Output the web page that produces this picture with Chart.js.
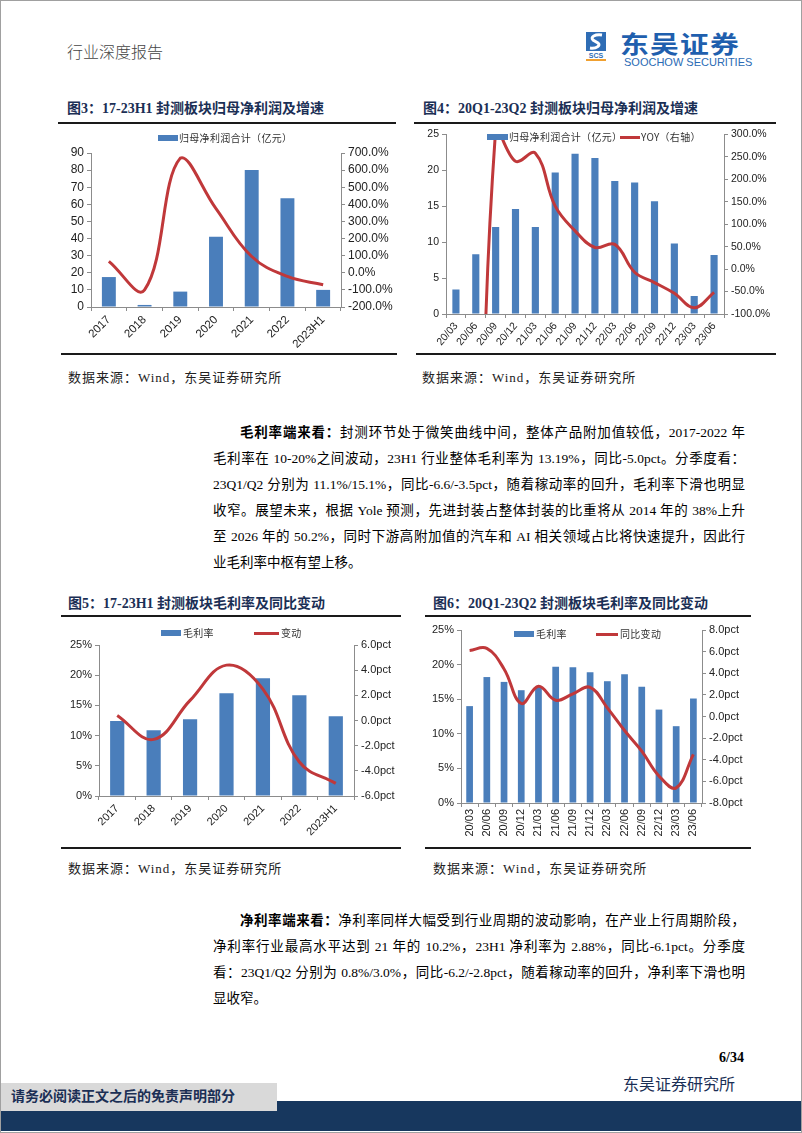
<!DOCTYPE html>
<html>
<head>
<meta charset="utf-8">
<script src="https://cdn.jsdelivr.net/npm/chart.js@4"></script>
<style>
  html, body { margin: 0; padding: 0; background: #fff; }
  #page { position: relative; width: 800px; height: 1131px; border: 1px solid #a0a0a0; overflow: hidden;
          font-family: "Liberation Serif", "Noto Sans CJK SC", serif; color: #000; }
  .abs { position: absolute; white-space: nowrap; }
  .rule { position: absolute; height: 2px; background: #1a1a1a; }
  .ttl { position: absolute; font-size: 14px; font-weight: bold; color: #1b2f55; white-space: nowrap; line-height: 16px; }
  .src { position: absolute; font-size: 13px; letter-spacing: 1px; color: #222; white-space: nowrap; line-height: 16px; }
  .box { position: absolute; }
  .box canvas { display: block; }
  .lg { position: absolute; font-family: "Noto Sans CJK SC", sans-serif; font-size: 10px; letter-spacing: 0.3px;
        color: #333; white-space: nowrap; line-height: 12px; }
  .lg .sw { position: absolute; top: 3px; height: 6px; background: #4a7ebb; }
  .lg .ln { position: absolute; top: 5px; height: 3px; background: #c0383a; }
  .lg span { position: absolute; top: 0; }
  .para { position: absolute; left: 212px; width: 532px; font-size: 13.5px; line-height: 26px; }
  .para div { text-align: justify; text-align-last: justify; }
  .para div.last { text-align-last: left; }
  .para b { font-weight: bold; }
</style>
</head>
<body>
<div id="page">
  <!-- header -->
  <div class="abs" style="left:66px;top:40px;font-size:16px;color:#444;line-height:20px;font-family:'Noto Sans CJK SC';font-weight:300;">行业深度报告</div>
  <svg class="abs" style="left:585px;top:31px" width="22" height="30" viewBox="0 0 22 30">
    <rect x="0" y="0" width="20" height="19" fill="#2f6db5"/>
    <path d="M16 3 C9 2 4 5 7 8 L12 11 C15 13 11 17 4 16" stroke="#fff" stroke-width="3" fill="none"/>
    <text x="10" y="25.5" font-size="7" font-weight="bold" fill="#2f6db5" text-anchor="middle" font-family="Liberation Sans">SCS</text>
    <rect x="0" y="27" width="20" height="2" fill="#f0a030"/>
  </svg>
  <div class="abs" style="left:619px;top:28px;font-size:24px;line-height:28px;font-weight:bold;color:#1f5fae;font-family:'Noto Sans CJK SC';transform:scaleX(1.2);transform-origin:left top;letter-spacing:1px;">东吴证券</div>
  <div class="abs" style="left:623px;top:55px;font-size:11px;line-height:12px;color:#2a6bb5;font-family:'Liberation Sans';">SOOCHOW SECURITIES</div>

  <!-- figure 3 / 4 -->
  <div class="ttl" style="left:66px;top:100px;">图3：17-23H1 封测板块归母净利润及增速</div>
  <div class="ttl" style="left:422px;top:100px;">图4：20Q1-23Q2 封测板块归母净利润及增速</div>
  <div class="rule" style="left:57px;top:121px;width:338px;"></div>
  <div class="rule" style="left:413px;top:121px;width:362px;"></div>

  <div class="box" style="left:60px;top:124px;"><canvas id="fig3" width="335" height="226"></canvas></div>
  <div class="box" style="left:413px;top:124px;"><canvas id="fig4" width="362" height="226"></canvas></div>

  <div class="lg" style="left:157px;top:131px;"><i class="sw" style="left:0;width:20px;"></i><span style="left:21px;">归母净利润合计（亿元）</span></div>
  <div class="lg" style="left:486px;top:130px;"><i class="sw" style="left:0;width:21px;"></i><span style="left:22px;">归母净利润合计（亿元）</span>
    <i class="ln" style="left:133px;width:20px;"></i><span style="left:154px;">YOY（右轴）</span></div>

  <div class="rule" style="left:60px;top:352px;width:336px;"></div>
  <div class="rule" style="left:415px;top:352px;width:360px;"></div>
  <div class="src" style="left:67px;top:369px;">数据来源：Wind，东吴证券研究所</div>
  <div class="src" style="left:421px;top:369px;">数据来源：Wind，东吴证券研究所</div>

  <!-- paragraph 1 -->
  <div class="para" style="top:419px;">
    <div><span style="padding-left:27px;"></span><b>毛利率端来看：</b>封测环节处于微笑曲线中间，整体产品附加值较低，2017-2022 年</div>
    <div>毛利率在 10-20%之间波动，23H1 行业整体毛利率为 13.19%，同比-5.0pct。分季度看：</div>
    <div>23Q1/Q2 分别为 11.1%/15.1%，同比-6.6/-3.5pct，随着稼动率的回升，毛利率下滑也明显</div>
    <div>收窄。展望未来，根据 Yole 预测，先进封装占整体封装的比重将从 2014 年的 38%上升</div>
    <div>至 2026 年的 50.2%，同时下游高附加值的汽车和 AI 相关领域占比将快速提升，因此行</div>
    <div class="last">业毛利率中枢有望上移。</div>
  </div>

  <!-- figure 5 / 6 -->
  <div class="ttl" style="left:67px;top:595px;">图5：17-23H1 封测板块毛利率及同比变动</div>
  <div class="ttl" style="left:432px;top:595px;">图6：20Q1-23Q2 封测板块毛利率及同比变动</div>
  <div class="rule" style="left:60px;top:614px;width:340px;"></div>
  <div class="rule" style="left:424px;top:614px;width:326px;"></div>

  <div class="box" style="left:60px;top:617px;"><canvas id="fig5" width="340" height="228"></canvas></div>
  <div class="box" style="left:424px;top:617px;"><canvas id="fig6" width="326" height="228"></canvas></div>

  <div class="lg" style="left:160px;top:626px;"><i class="sw" style="left:0;width:20px;"></i><span style="left:22px;">毛利率</span>
    <i class="ln" style="left:93px;width:25px;"></i><span style="left:120px;">变动</span></div>
  <div class="lg" style="left:513px;top:627px;"><i class="sw" style="left:0;width:20px;"></i><span style="left:22px;">毛利率</span>
    <i class="ln" style="left:82px;width:22px;"></i><span style="left:106px;">同比变动</span></div>

  <div class="rule" style="left:60px;top:846px;width:340px;"></div>
  <div class="rule" style="left:424px;top:846px;width:326px;"></div>
  <div class="src" style="left:67px;top:860px;">数据来源：Wind，东吴证券研究所</div>
  <div class="src" style="left:432px;top:860px;">数据来源：Wind，东吴证券研究所</div>

  <!-- paragraph 2 -->
  <div class="para" style="top:907px;">
    <div><span style="padding-left:27px;"></span><b>净利率端来看：</b>净利率同样大幅受到行业周期的波动影响，在产业上行周期阶段，</div>
    <div>净利率行业最高水平达到 21 年的 10.2%，23H1 净利率为 2.88%，同比-6.1pct。分季度</div>
    <div>看：23Q1/Q2 分别为 0.8%/3.0%，同比-6.2/-2.8pct，随着稼动率的回升，净利率下滑也明</div>
    <div class="last">显收窄。</div>
  </div>

  <!-- footer -->
  <div class="abs" style="left:718px;top:1049px;font-size:14px;line-height:16px;font-weight:bold;">6/34</div>
  <div class="abs" style="left:622px;top:1075px;font-size:16px;line-height:18px;color:#1b2f55;">东吴证券研究所</div>
  <div class="abs" style="left:0;top:1100px;width:802px;height:30px;background:#17375e;"></div>
  <div class="abs" style="left:0;top:1082px;width:276px;height:28px;background:#d9d9d9;"></div>
  <div class="abs" style="left:10px;top:1088px;font-size:14px;line-height:16px;font-weight:bold;color:#1b2f55;">请务必阅读正文之后的免责声明部分</div>
</div>

<script>
// 图3 年度归母净利润（亿元）及增速（%）
const yearLabels = ['2017', '2018', '2019', '2020', '2021', '2022', '2023H1'];
const yearProfit = [17.5, 1.2, 9.0, 41.0, 80.0, 63.5, 10.0];
const yearProfitYoy = [67, -100, 670, 375, 95, -21, -70];

// 图4 季度归母净利润（亿元）及 YOY（%）
const quarterLabels = ['20/03', '20/06', '20/09', '20/12', '21/03', '21/06', '21/09',
                       '21/12', '22/03', '22/06', '22/09', '22/12', '23/03', '23/06'];
const quarterProfit = [3.4, 8.3, 12.1, 14.6, 12.1, 19.7, 22.3, 21.7, 18.5, 18.3, 15.7, 9.8, 2.5, 8.2];
const quarterProfitYoy = [null, -1000, 310, 240, 258, 140, 85, 48, 55, -7, -30, -54, -86, -52];

// 图5 年度毛利率（%）及同比变动（pct）
const yearMargin = [12.4, 10.9, 12.7, 17.0, 19.5, 16.7, 13.2];
const yearMarginChg = [0.4, -1.5, 1.6, 4.4, 2.5, -3.3, -5.0];

// 图6 季度毛利率（%）及同比变动（pct）
const quarterMargin = [14.0, 18.2, 17.5, 16.3, 16.8, 19.7, 19.6, 18.9, 17.6, 18.6, 16.8, 13.5, 11.1, 15.1];
const quarterMarginChg = [6.1, 6.3, 4.4, 1.2, 2.8, 1.5, 2.1, 2.7, 0.8, -1.3, -3.2, -5.5, -6.6, -3.5];

const blue = '#4a7ebb';
const red = '#c0383a';
const axisGray = '#8c8c8c';

Chart.defaults.font.family = '"Liberation Sans", Arial, sans-serif';
Chart.defaults.color = '#222';
Chart.defaults.animation = false;

const axisGrid = () => ({ display: true, drawOnChartArea: false, drawTicks: true, tickLength: 4, color: axisGray });

function comboChart(id, o) {
  return new Chart(document.getElementById(id).getContext('2d'), {
    data: {
      labels: o.labels,
      datasets: [
        {
          type: 'line', data: o.line, yAxisID: 'y1',
          borderColor: red, borderWidth: 3, pointRadius: 0, tension: 0.4, order: 0
        },
        {
          type: 'bar', data: o.bars, yAxisID: 'y',
          backgroundColor: blue, barPercentage: o.barPct, categoryPercentage: 1, order: 1
        }
      ]
    },
    options: {
      responsive: false,
      animation: false,
      layout: { padding: { top: o.padTop, left: 0, right: 0, bottom: 0 } },
      plugins: { legend: { display: false }, tooltip: { enabled: false } },
      scales: {
        x: {
          grid: axisGrid(),
          border: { color: axisGray },
          ticks: { font: { size: o.xFont }, minRotation: o.rot, maxRotation: o.rot, autoSkip: false, padding: 2 },
          afterFit: s => { s.height = o.xH; }
        },
        y: {
          position: 'left', min: o.yMin, max: o.yMax,
          grid: axisGrid(),
          border: { color: axisGray },
          ticks: { stepSize: o.yStep, autoSkip: false, font: { size: o.yFont }, callback: o.yFmt },
          afterFit: s => { s.width = o.yW; }
        },
        y1: {
          position: 'right', min: o.y1Min, max: o.y1Max,
          grid: axisGrid(),
          border: { color: axisGray },
          ticks: { stepSize: o.y1Step, autoSkip: false, font: { size: o.yFont }, callback: o.y1Fmt },
          afterFit: s => { s.width = o.y1W; }
        }
      }
    }
  });
}

comboChart('fig3', {
  labels: yearLabels, bars: yearProfit, line: yearProfitYoy, barPct: 0.39,
  padTop: 28, xH: 44, yW: 30, y1W: 55, rot: 45, xFont: 11.5, yFont: 12,
  yMin: 0, yMax: 90, yStep: 10, yFmt: v => v,
  y1Min: -200, y1Max: 700, y1Step: 100, y1Fmt: v => v.toFixed(1) + '%'
});

comboChart('fig4', {
  labels: quarterLabels, bars: quarterProfit, line: quarterProfitYoy, barPct: 0.36,
  padTop: 9, xH: 37, yW: 32, y1W: 52, rot: 50, xFont: 10.5, yFont: 10.5,
  yMin: 0, yMax: 25, yStep: 5, yFmt: v => v,
  y1Min: -100, y1Max: 300, y1Step: 50, y1Fmt: v => v.toFixed(1) + '%'
});

comboChart('fig5', {
  labels: yearLabels, bars: yearMargin, line: yearMarginChg, barPct: 0.39,
  padTop: 27, xH: 50, yW: 38, y1W: 47, rot: 45, xFont: 11, yFont: 11,
  yMin: 0, yMax: 25, yStep: 5, yFmt: v => v + '%',
  y1Min: -6, y1Max: 6, y1Step: 2, y1Fmt: v => v.toFixed(1) + 'pct'
});

comboChart('fig6', {
  labels: quarterLabels, bars: quarterMargin, line: quarterMarginChg, barPct: 0.39,
  padTop: 12, xH: 43, yW: 36, y1W: 49, rot: 90, xFont: 11, yFont: 11,
  yMin: 0, yMax: 25, yStep: 5, yFmt: v => v + '%',
  y1Min: -8, y1Max: 8, y1Step: 2, y1Fmt: v => v.toFixed(1) + 'pct'
});
</script>
</body>
</html>
